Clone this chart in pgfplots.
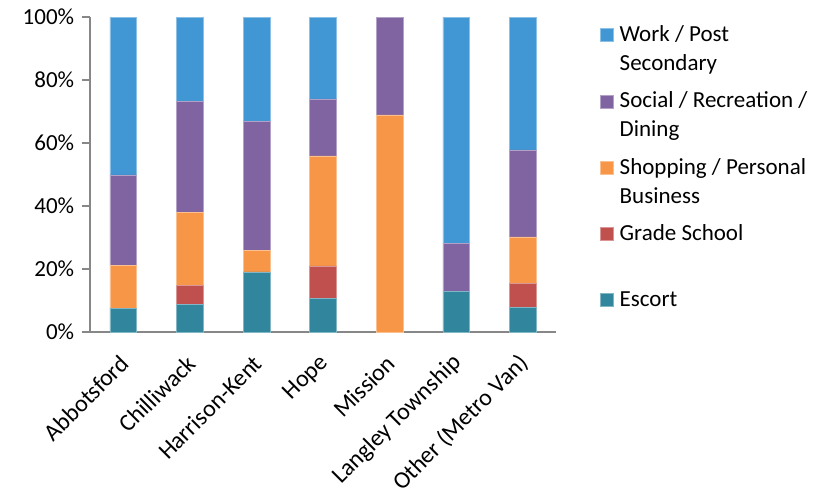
\documentclass[border=0pt]{standalone}
\usepackage{fontspec}
\setmainfont{Carlito}
\usepackage{pgfplots}
\pgfplotsset{compat=1.18}
\definecolor{cwork}{HTML}{4196D4}
\definecolor{csocial}{HTML}{8064A2}
\definecolor{cshop}{HTML}{F79646}
\definecolor{cgrade}{HTML}{C0504D}
\definecolor{cescort}{HTML}{31859C}
\definecolor{axgray}{HTML}{878787}
\newcommand{\legtxt}[1]{\begin{tabular}[b]{@{}l@{}}#1\end{tabular}}
\begin{document}
\fontsize{23}{29}\selectfont
\begin{tikzpicture}
\begin{axis}[
  at={(0,0)}, anchor=south west,
  scale only axis, width=466pt, height=315pt,
  ybar stacked, bar width=26.7pt,
  xmin=0.5, xmax=7.5, ymin=0, ymax=100,
  axis x line*=bottom, axis y line*=left,
  axis line style={axgray, line width=1.5pt},
  tick style={axgray, line width=1.5pt},
  tick align=outside, major tick length=8pt,
  xtick={1,...,7}, x tick style={draw=none},
  xticklabels={Abbotsford,Chilliwack,Harrison-Kent,Hope,Mission,Langley Township,Other (Metro Van)},
  extra x ticks={0.5,1.5,...,7.5}, extra x tick labels={},
  extra x tick style={tick style={axgray, line width=1.5pt}, major tick length=8pt},
  xticklabel style={xshift=3pt, yshift=-18pt, rotate=45, anchor=east, inner sep=2pt, font=\fontsize{24}{29}\selectfont},
  ytick={0,20,...,100},
  yticklabels={0\%,20\%,40\%,60\%,80\%,100\%},
  yticklabel style={font=\fontsize{23}{29}\selectfont},
  /pgf/number format/assume math mode=true,
  legend style={at={(1,1)}, anchor=north west, xshift=41pt, yshift=-2pt,
    draw=none, fill=none, row sep=13.5pt, column sep=6pt,
    font=\fontsize{23}{29}\selectfont,
    cells={anchor=base west},
    nodes={inner sep=0pt}},
  legend image code/.code={\fill[#1] (0pt,29pt) rectangle (13pt,42pt);},
  reverse legend,
]
\addplot[fill=cescort, draw=cescort!60!white, line width=0.5pt] coordinates {(1,7.6) (2,8.7) (3,19.1) (4,10.6) (5,0) (6,12.8) (7,7.8)};
\addlegendentry{\legtxt{Escort\\\mbox{}}}
\addplot[fill=cgrade, draw=cgrade!60!white, line width=0.5pt] coordinates {(1,0) (2,6.2) (3,0) (4,10.4) (5,0) (6,0) (7,7.7)};
\addlegendentry{\legtxt{Grade School\\\mbox{}}}
\addplot[fill=cshop, draw=cshop!60!white, line width=0.5pt] coordinates {(1,13.5) (2,23.0) (3,6.9) (4,34.9) (5,68.9) (6,0) (7,14.7)};
\addlegendentry{\legtxt{Shopping / Personal\\Business}}
\addplot[fill=csocial, draw=csocial!60!white, line width=0.5pt] coordinates {(1,28.8) (2,35.4) (3,40.8) (4,18.1) (5,31.1) (6,15.3) (7,27.6)};
\addlegendentry{\legtxt{Social / Recreation /\\Dining}}
\addplot[fill=cwork, draw=cwork!60!white, line width=0.5pt] coordinates {(1,50.1) (2,26.7) (3,33.2) (4,26.0) (5,0) (6,71.9) (7,42.2)};
\addlegendentry{\legtxt{Work / Post\\Secondary}}
\end{axis}
\pgfresetboundingbox
\useasboundingbox (-90pt,-159pt) rectangle (727pt,332pt);
\end{tikzpicture}
\end{document}
